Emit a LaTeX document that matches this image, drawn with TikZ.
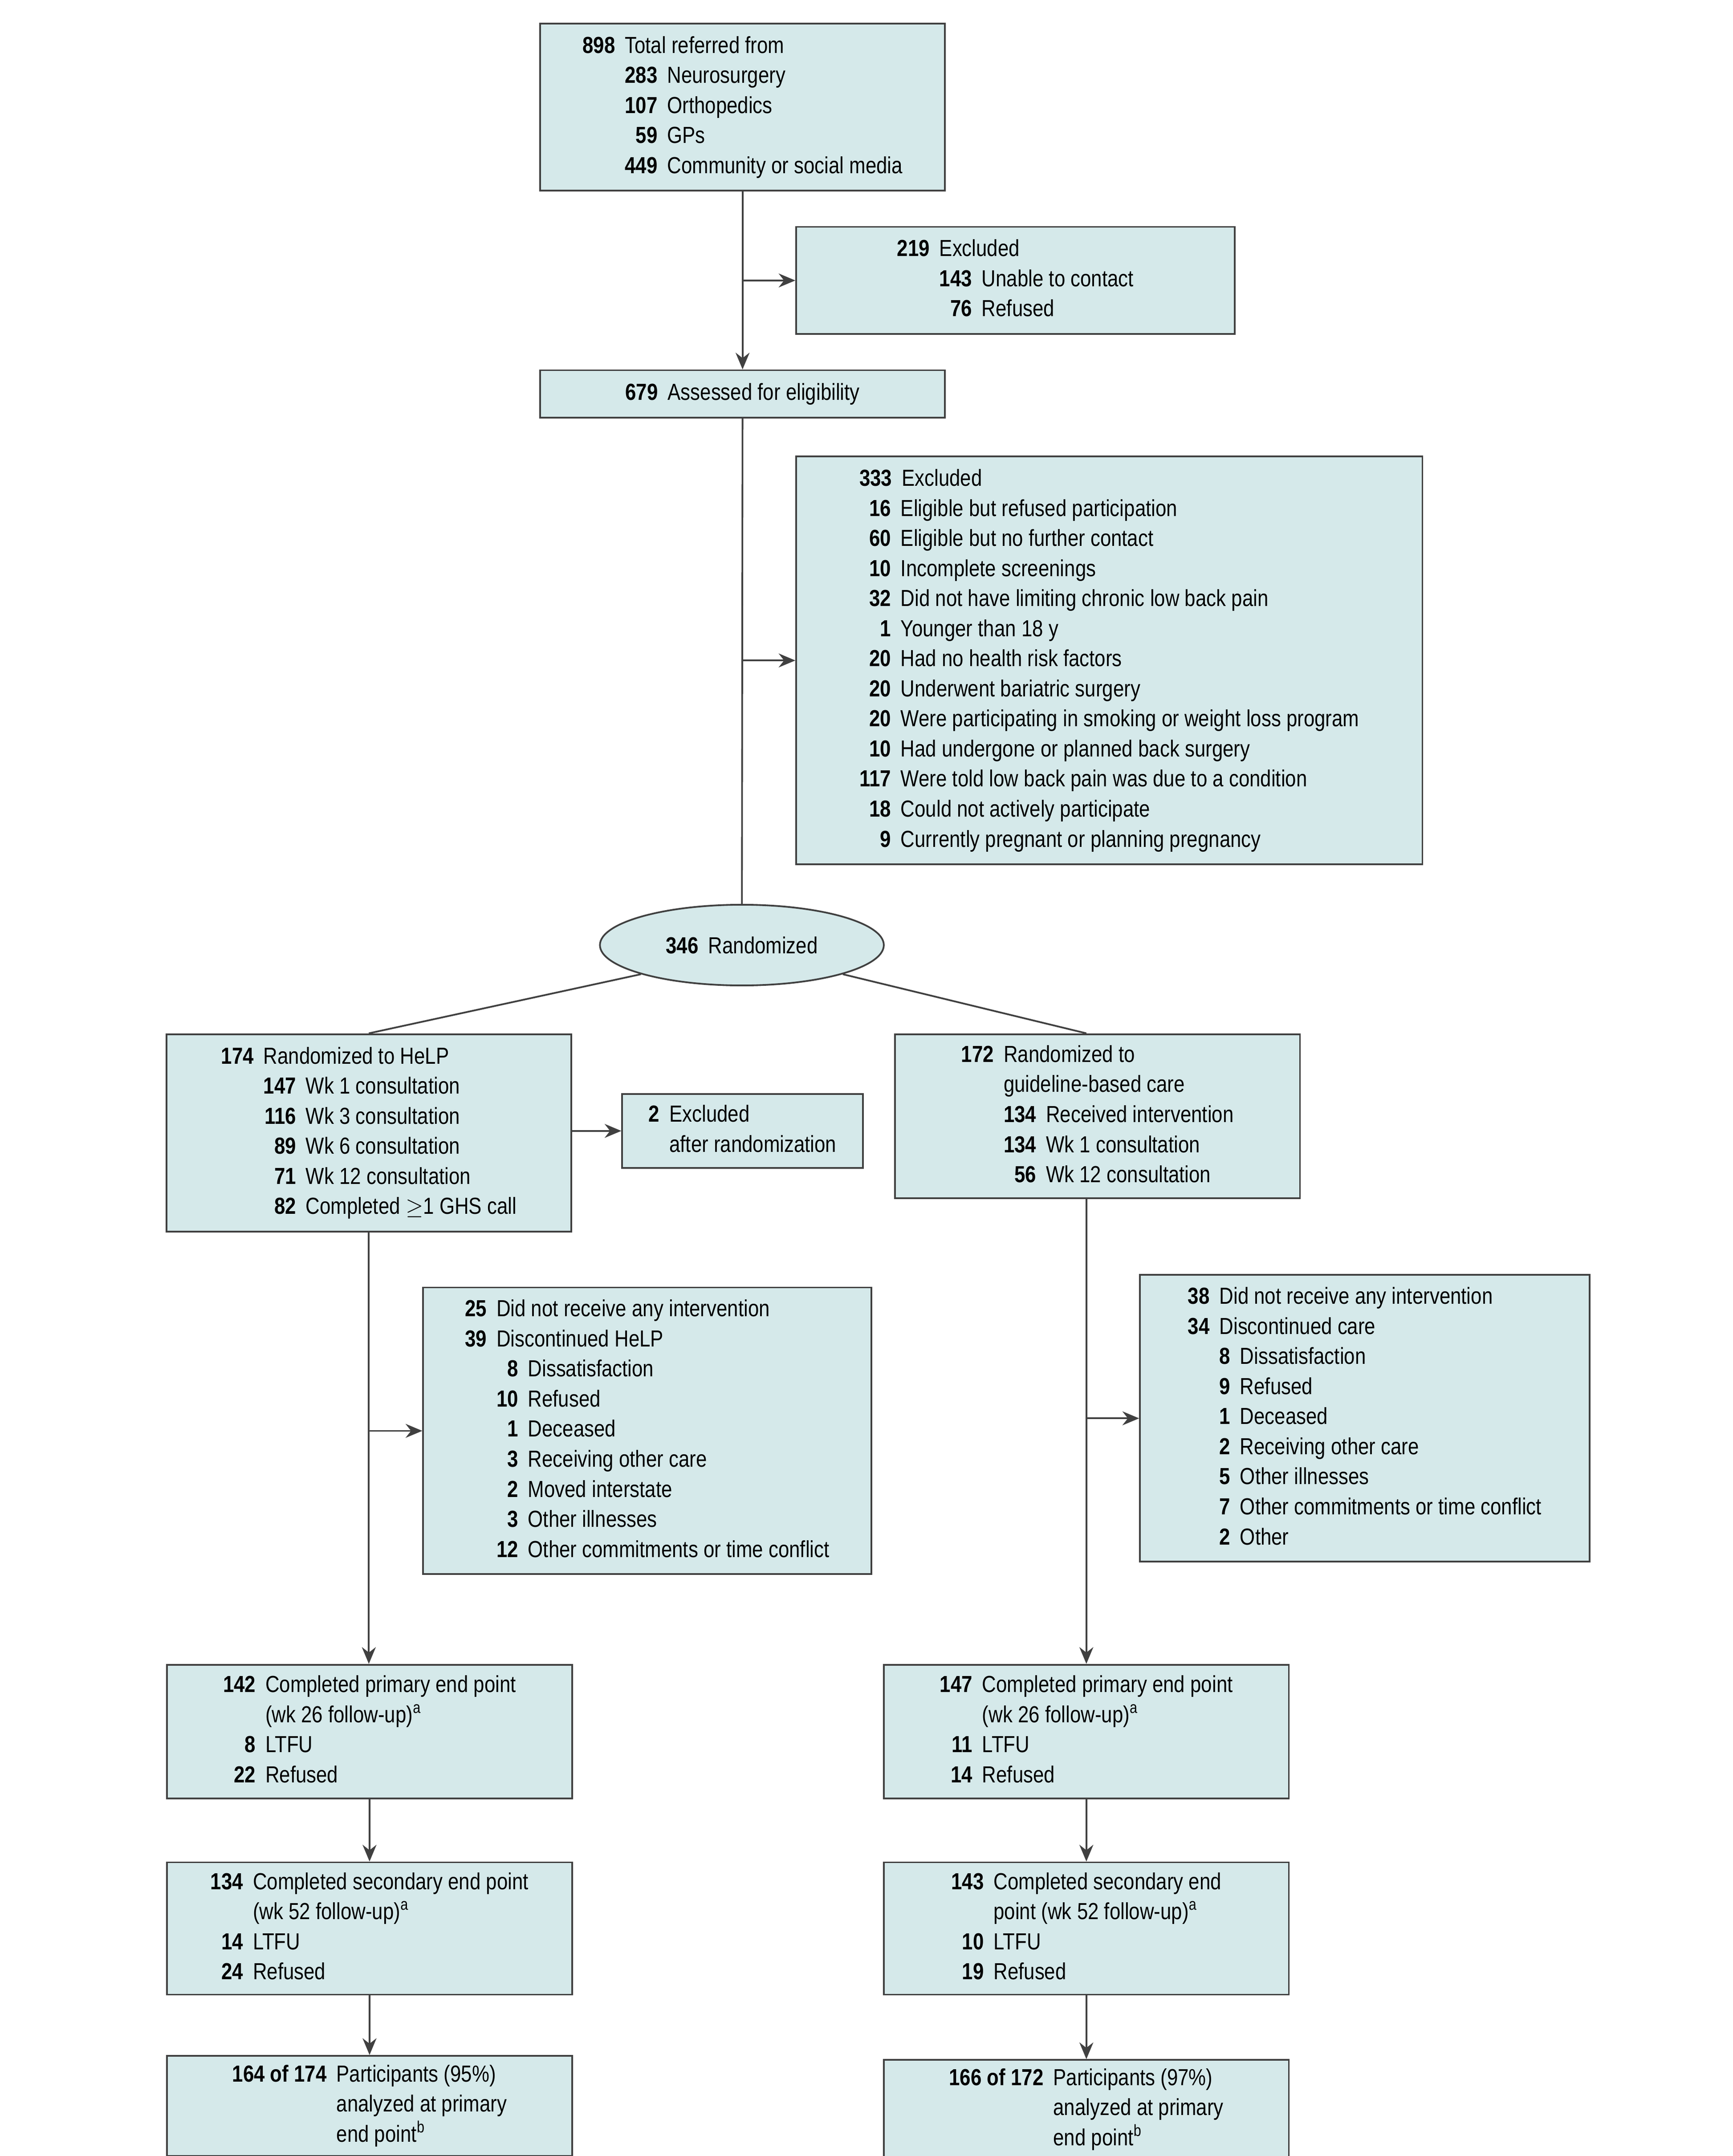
\documentclass[tikz,border=0pt]{standalone}
\usepackage{fontspec}
\setmainfont{Liberation Sans}[FakeStretch=0.84]
\usetikzlibrary{arrows.meta,shapes.geometric}

\definecolor{boxfill}{HTML}{D5E9EA}
\definecolor{boxline}{HTML}{404040}
\newcommand{\nb}[1]{\textbf{#1}}
\newcommand{\sfr}[1]{\textsuperscript{#1}}

\begin{document}
\begin{tikzpicture}[x=0.02cm,y=-0.02cm,
  font=\fontsize{9.5}{12.3}\selectfont,
  flowbox/.style={draw=boxline,fill=boxfill,line width=0.7pt,inner sep=0pt,align=left},
  flowline/.style={draw=boxline,line width=0.7pt},
  flowarrow/.style={flowline,-{Stealth[length=2.4mm,width=2mm]}}]
\useasboundingbox (0,0) rectangle (1245,1549);

% enrolment
\node[flowbox,minimum width=5.82cm,minimum height=2.40cm] (referred) at (533.5,77)
  {\begin{tabular}{@{}r@{\hspace{4pt}}r@{\hspace{4pt}}l@{}}
   \nb{898} & \multicolumn{2}{@{}l}{Total referred from}\\
   & \nb{283} & Neurosurgery\\
   & \nb{107} & Orthopedics\\
   & \nb{59} & GPs\\
   & \nb{449} & Community or social media
   \end{tabular}};
\node[flowbox,minimum width=6.30cm,minimum height=1.54cm] (excl1) at (729.5,201.5)
  {\begin{tabular}{@{}r@{\hspace{4pt}}r@{\hspace{4pt}}l@{}}
   \nb{219} & \multicolumn{2}{@{}l}{Excluded}\\
   & \nb{143} & Unable to contact\\
   & \nb{76} & Refused
   \end{tabular}};
\node[flowbox,minimum width=5.82cm,minimum height=0.68cm] (assessed) at (533.5,283)
  {\nb{679}\hspace{4pt}Assessed for eligibility};
\node[flowbox,minimum width=9.00cm,minimum height=5.86cm] (excl2) at (797,474.5)
  {\begin{tabular}{@{}r@{\hspace{4pt}}l@{}}
   \multicolumn{2}{@{}l}{\nb{333}\hspace{4pt}Excluded}\\
   \nb{16} & Eligible but refused participation\\
   \nb{60} & Eligible but no further contact\\
   \nb{10} & Incomplete screenings\\
   \nb{32} & Did not have limiting chronic low back pain\\
   \nb{1} & Younger than 18 y\\
   \nb{20} & Had no health risk factors\\
   \nb{20} & Underwent bariatric surgery\\
   \nb{20} & Were participating in smoking or weight loss program\\
   \nb{10} & Had undergone or planned back surgery\\
   \nb{117} & Were told low back pain was due to a condition\\
   \nb{18} & Could not actively participate\\
   \nb{9} & Currently pregnant or planning pregnancy
   \end{tabular}};
\node[flowbox,ellipse,minimum width=4.08cm,minimum height=1.16cm] (random) at (533,679)
  {\nb{346}\hspace{4pt}Randomized};

% allocation
\node[flowbox,minimum width=5.82cm,minimum height=2.84cm] (help) at (265,814)
  {\begin{tabular}{@{}r@{\hspace{4pt}}r@{\hspace{4pt}}l@{}}
   \nb{174} & \multicolumn{2}{@{}l}{Randomized to HeLP}\\
   & \nb{147} & Wk 1 consultation\\
   & \nb{116} & Wk 3 consultation\\
   & \nb{89} & Wk 6 consultation\\
   & \nb{71} & Wk 12 consultation\\
   & \nb{82} & Completed ${\geq}$1 GHS call
   \end{tabular}};
\node[flowbox,minimum width=3.46cm,minimum height=1.06cm] (excl3) at (533.5,812.5)
  {\begin{tabular}{@{}r@{\hspace{4pt}}l@{}}
   \nb{2} & Excluded\\
   & after randomization
   \end{tabular}};
\node[flowbox,minimum width=5.82cm,minimum height=2.36cm] (guide) at (788.5,802)
  {\begin{tabular}{@{}r@{\hspace{4pt}}r@{\hspace{4pt}}l@{}}
   \nb{172} & \multicolumn{2}{@{}l}{Randomized to}\\
   & \multicolumn{2}{@{}l}{guideline-based care}\\
   & \nb{134} & Received intervention\\
   & \nb{134} & Wk 1 consultation\\
   & \nb{56} & Wk 12 consultation
   \end{tabular}};

% follow-up
\node[flowbox,minimum width=6.44cm,minimum height=4.12cm] (dropL) at (465,1028)
  {\begin{tabular}{@{}r@{\hspace{4pt}}r@{\hspace{4pt}}l@{}}
   \nb{25} & \multicolumn{2}{@{}l}{Did not receive any intervention}\\
   \nb{39} & \multicolumn{2}{@{}l}{Discontinued HeLP}\\
   & \nb{8} & Dissatisfaction\\
   & \nb{10} & Refused\\
   & \nb{1} & Deceased\\
   & \nb{3} & Receiving other care\\
   & \nb{2} & Moved interstate\\
   & \nb{3} & Other illnesses\\
   & \nb{12} & Other commitments or time conflict
   \end{tabular}};
\node[flowbox,minimum width=6.46cm,minimum height=4.12cm] (dropR) at (980.5,1019)
  {\begin{tabular}{@{}r@{\hspace{4pt}}r@{\hspace{4pt}}l@{}}
   \nb{38} & \multicolumn{2}{@{}l}{Did not receive any intervention}\\
   \nb{34} & \multicolumn{2}{@{}l}{Discontinued care}\\
   & \nb{8} & Dissatisfaction\\
   & \nb{9} & Refused\\
   & \nb{1} & Deceased\\
   & \nb{2} & Receiving other care\\
   & \nb{5} & Other illnesses\\
   & \nb{7} & Other commitments or time conflict\\
   & \nb{2} & Other
   \end{tabular}};
\node[flowbox,minimum width=5.82cm,minimum height=1.92cm] (primL) at (265.5,1244)
  {\begin{tabular}{@{}r@{\hspace{4pt}}l@{}}
   \nb{142} & Completed primary end point\\
   & (wk 26 follow-up)\sfr{a}\\
   \nb{8} & LTFU\\
   \nb{22} & Refused
   \end{tabular}};
\node[flowbox,minimum width=5.82cm,minimum height=1.92cm] (primR) at (780.5,1244)
  {\begin{tabular}{@{}r@{\hspace{4pt}}l@{}}
   \nb{147} & Completed primary end point\\
   & (wk 26 follow-up)\sfr{a}\\
   \nb{11} & LTFU\\
   \nb{14} & Refused
   \end{tabular}};
\node[flowbox,minimum width=5.82cm,minimum height=1.90cm] (secL) at (265.5,1385.5)
  {\begin{tabular}{@{}r@{\hspace{4pt}}l@{}}
   \nb{134} & Completed secondary end point\\
   & (wk 52 follow-up)\sfr{a}\\
   \nb{14} & LTFU\\
   \nb{24} & Refused
   \end{tabular}};
\node[flowbox,minimum width=5.82cm,minimum height=1.90cm] (secR) at (780.5,1385.5)
  {\begin{tabular}{@{}r@{\hspace{4pt}}l@{}}
   \nb{143} & Completed secondary end\\
   & point (wk 52 follow-up)\sfr{a}\\
   \nb{10} & LTFU\\
   \nb{19} & Refused
   \end{tabular}};
\node[flowbox,minimum width=5.82cm,minimum height=1.44cm] (anaL) at (265.5,1513)
  {\begin{tabular}{@{}r@{\hspace{4pt}}l@{}}
   \nb{164 of 174} & Participants (95\%)\\
   & analyzed at primary\\
   & end point\sfr{b}
   \end{tabular}};
\node[flowbox,minimum width=5.82cm,minimum height=1.42cm] (anaR) at (780.5,1515.5)
  {\begin{tabular}{@{}r@{\hspace{4pt}}l@{}}
   \nb{166 of 172} & Participants (97\%)\\
   & analyzed at primary\\
   & end point\sfr{b}
   \end{tabular}};

% connectors
\draw[flowarrow] (referred) -- (assessed);
\draw[flowarrow] (referred.south |- excl1.west) -- (excl1.west);
\draw[flowline] (assessed) -- (random);
\draw[flowarrow] (assessed.south |- excl2.west) -- (excl2.west);
\draw[flowline] (random.south west) -- (help.north);
\draw[flowline] (random.south east) -- (guide.north -| primR.north);
\draw[flowarrow] (help.east |- excl3.west) -- (excl3.west);
\draw[flowarrow] (help.south) -- (primL.north -| help.south);
\draw[flowarrow] (help.south |- dropL.west) -- (dropL.west);
\draw[flowarrow] (guide.south -| primR.north) -- (primR.north);
\draw[flowarrow] (primR.north |- dropR.west) -- (dropR.west);
\draw[flowarrow] (primL) -- (secL);
\draw[flowarrow] (secL) -- (anaL);
\draw[flowarrow] (primR) -- (secR);
\draw[flowarrow] (secR) -- (anaR);
\end{tikzpicture}
\end{document}
